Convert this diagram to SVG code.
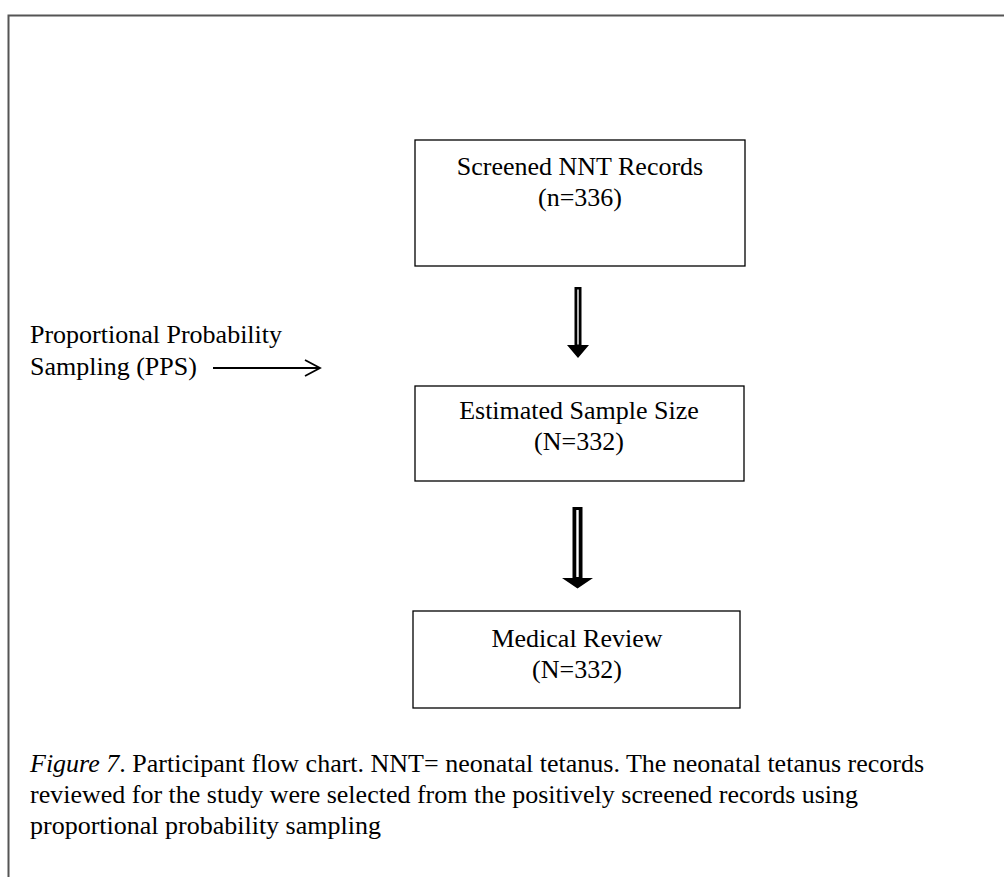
<svg xmlns="http://www.w3.org/2000/svg" width="1004" height="877" viewBox="0 0 1004 877">
<style>
text{font-family:"Liberation Serif","Times New Roman",serif;font-size:26px;fill:#000}
.c{text-anchor:middle}
.box{fill:#fff;stroke:#000;stroke-width:1.3}
.blk{fill:#000}
.slit{fill:#fff}
.ln{fill:none;stroke:#000;stroke-width:1.8}
</style>
<rect width="1004" height="877" fill="#fff"/>
<path d="M8.5 877V15.5H1004" fill="none" stroke="#555" stroke-width="2"/>
<g id="connectors">
<g id="a1"><path class="blk" d="M574.5 287H581.5V345H589L578 358L567 345H574.5Z"/><rect class="slit" x="577.3" y="289.5" width="1.4" height="55"/></g>
<g id="a2"><path class="blk" d="M572.5 507H582.5V578H593L577.5 588.5L562 578H572.5Z"/><rect class="slit" x="576.3" y="510" width="2.4" height="67"/></g>
<path class="ln" d="M213 368H320M305 360L320 368L305 376"/>
</g>
<g id="n1"><rect class="box" x="415" y="140" width="330" height="126"/>
<text class="c" x="580" y="175">Screened NNT Records</text><text class="c" x="580" y="206">(n=336)</text></g>
<g id="n2"><rect class="box" x="415" y="386" width="329" height="95"/>
<text class="c" x="579" y="419">Estimated Sample Size</text><text class="c" x="579" y="450">(N=332)</text></g>
<g id="n3"><rect class="box" x="413" y="611" width="327" height="97"/>
<text class="c" x="577" y="647">Medical Review</text><text class="c" x="577" y="678">(N=332)</text></g>
<g id="label"><text x="30" y="343">Proportional Probability</text><text x="30" y="375">Sampling (PPS)</text></g>
<g id="caption">
<text x="30" y="772"><tspan font-style="italic">Figure 7</tspan>. Participant flow chart. NNT= neonatal tetanus. The neonatal tetanus records</text>
<text x="30" y="803">reviewed for the study were selected from the positively screened records using</text>
<text x="30" y="834">proportional probability sampling</text>
</g>
</svg>
